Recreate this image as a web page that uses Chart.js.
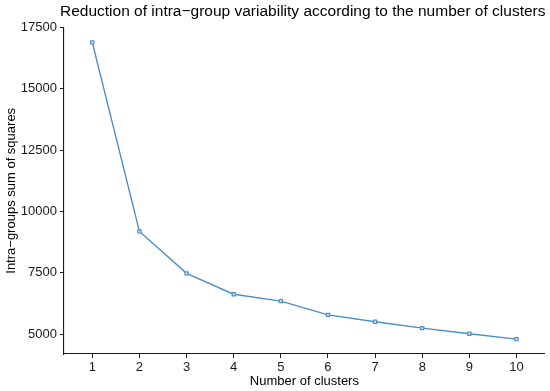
<!DOCTYPE html>
<html>
<head>
<meta charset="utf-8">
<script src="https://cdn.jsdelivr.net/npm/chart.js@4/dist/chart.umd.min.js"></script>
<style>
html,body{margin:0;padding:0;background:#fff;}
#wrap{width:550px;height:391px;}
</style>
</head>
<body>
<div id="wrap"><canvas id="c" width="550" height="391"></canvas></div>
<script>
const clusters = [1,2,3,4,5,6,7,8,9,10];
const withinSS = [16890,9190,7480,6630,6350,5790,5510,5250,5020,4800];
const yTicks = [5000,7500,10000,12500,15000,17500];
const xTicks = clusters;

const font = "'Liberation Sans', Arial, sans-serif";
const lineColor = '#4a8ecb';

new Chart(document.getElementById('c'), {
  type: 'line',
  data: {
    datasets: [{
      data: clusters.map((k,i)=>({x:k,y:withinSS[i]})),
      borderColor: lineColor,
      borderWidth: 1.4,
      pointStyle: 'rect',
      pointRadius: 2.2,
      pointBorderWidth: 1.2,
      pointBorderColor: lineColor,
      pointBackgroundColor: '#dbe8f5',
      tension: 0,
      fill: false
    }]
  },
  options: {
    responsive: false,
    animation: false,
    devicePixelRatio: 1,
    layout: { padding: { left: 0, right: 4.5, top: 0, bottom: 0 } },
    plugins: {
      legend: { display: false },
      tooltip: { enabled: false },
      title: {
        display: true,
        text: 'Reduction of intra\u2212group variability according to the number of clusters',
        color: '#000',
        font: { family: font, size: 15.5, weight: 'normal' },
        padding: { top: 2, bottom: 7 },
        align: 'end'
      }
    },
    scales: {
      x: {
        type: 'linear',
        min: 0.4,
        max: 10.6,
        afterBuildTicks: s => { s.ticks = xTicks.map(v => ({value: v})); },
        afterFit: s => { s.height = 37; },
        ticks: { color: '#1a1a1a', font: { family: font, size: 13 }, padding: 2, autoSkip: false, maxRotation: 0 },
        grid: { display: true, drawOnChartArea: false, drawTicks: true, tickLength: 4, color: '#1a1a1a', lineWidth: 1 },
        border: { display: true, color: '#1a1a1a', width: 1.1 },
        title: { display: true, text: 'Number of clusters', color: '#000', font: { family: font, size: 13 }, padding: { top: 0, bottom: 2 } }
      },
      y: {
        type: 'linear',
        min: 4196,
        max: 17494,
        afterBuildTicks: s => { s.ticks = yTicks.map(v => ({value: v})); },
        afterFit: s => { s.width = 64; },
        ticks: { color: '#1a1a1a', font: { family: font, size: 13 }, padding: 3, callback: v => String(v) },
        grid: { display: true, drawOnChartArea: false, drawTicks: true, tickLength: 4, color: '#1a1a1a', lineWidth: 1 },
        border: { display: true, color: '#1a1a1a', width: 1.1 },
        title: { display: true, text: 'Intra\u2212groups sum of squares', color: '#000', font: { family: font, size: 13 }, padding: { top: 4, bottom: 0 } }
      }
    }
  }
});
</script>
</body>
</html>
